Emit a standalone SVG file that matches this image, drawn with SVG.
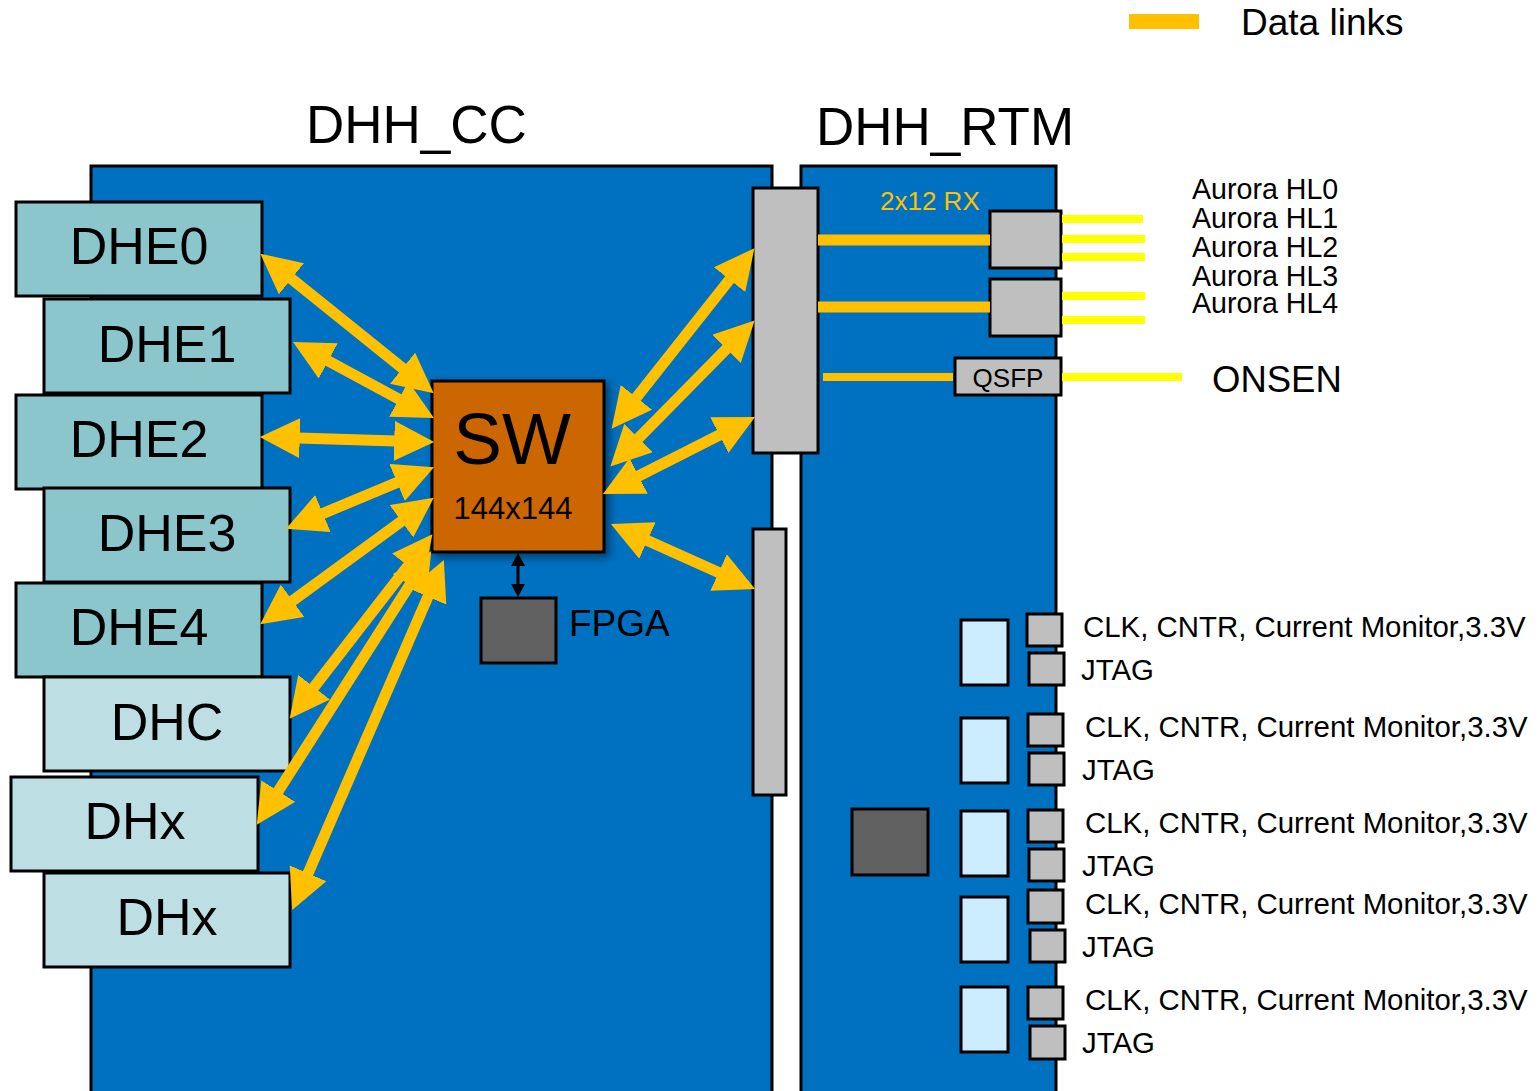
<svg xmlns="http://www.w3.org/2000/svg" width="1539" height="1091" viewBox="0 0 1539 1091">
<defs>
<style>
text{font-family:"Liberation Sans",Arial,sans-serif;fill:#000}
.board{fill:#0070C0;stroke:#000;stroke-width:3}
.dhe{fill:#8BC6CD;stroke:#000;stroke-width:3}
.dhc{fill:#BDDFE3;stroke:#000;stroke-width:3}
.gray{fill:#BFBFBF;stroke:#000;stroke-width:3}
.lb{fill:#CCECFF;stroke:#000;stroke-width:3}
.dark{fill:#606060;stroke:#000;stroke-width:3}
.link{stroke:#FFC000;stroke-width:11;fill:none;marker-start:url(#ah);marker-end:url(#ah)}
.or{stroke:#FFC000;fill:none}
.ye{stroke:#FFFF00;stroke-width:8;fill:none}
.lbl{font-size:52px;text-anchor:middle}
.mon{font-size:29.4px}
.aur{font-size:28.6px}
</style>
<marker id="ah" markerUnits="userSpaceOnUse" markerWidth="40" markerHeight="40" viewBox="0 0 36 36" refX="16" refY="18" orient="auto-start-reverse">
<path d="M0,0 L36,18 L0,36 Z" fill="#FFC000"/>
</marker>
<filter id="sh" x="-20%" y="-20%" width="150%" height="150%">
<feDropShadow dx="4" dy="4" stdDeviation="4" flood-color="#000" flood-opacity="0.45"/>
</filter>
</defs>
<rect width="1539" height="1091" fill="#fff"/>

<g id="legend">
<rect x="1129" y="14" width="70" height="15" fill="#FFC000"/>
<text x="1241" y="35" font-size="37">Data links</text>
</g>

<g id="dhh_cc">
<rect class="board" x="91" y="166" width="681" height="940"/>
<text x="306" y="143" font-size="53">DHH_CC</text>
</g>
<g id="dhh_rtm">
<rect class="board" x="801" y="166" width="255" height="940"/>
<text x="816" y="145" font-size="53">DHH_RTM</text>
</g>

<g id="conn_top"><rect class="gray" x="753" y="188" width="65" height="265"/></g>
<g id="conn_bot"><rect class="gray" x="753" y="529" width="33" height="266"/></g>

<g id="dhe0"><rect class="dhe" x="16" y="202" width="246" height="94"/><text class="lbl" x="139" y="264">DHE0</text></g>
<g id="dhe1"><rect class="dhe" x="44" y="299" width="246" height="94"/><text class="lbl" x="167" y="362">DHE1</text></g>
<g id="dhe2"><rect class="dhe" x="16" y="395" width="246" height="94"/><text class="lbl" x="139" y="457">DHE2</text></g>
<g id="dhe3"><rect class="dhe" x="44" y="488" width="246" height="94"/><text class="lbl" x="167" y="551">DHE3</text></g>
<g id="dhe4"><rect class="dhe" x="16" y="583" width="246" height="94"/><text class="lbl" x="139" y="645">DHE4</text></g>
<g id="dhc"><rect class="dhc" x="44" y="677" width="246" height="94"/><text class="lbl" x="167" y="740">DHC</text></g>
<g id="dhx1"><rect class="dhc" x="11" y="777" width="247" height="94"/><text class="lbl" x="135" y="839">DHx</text></g>
<g id="dhx2"><rect class="dhc" x="44" y="873" width="246" height="94"/><text class="lbl" x="167" y="935">DHx</text></g>

<g id="sw">
<rect x="432" y="381" width="172" height="171" fill="#CC6600" stroke="#000" stroke-width="3" filter="url(#sh)"/>
<text x="512" y="464" font-size="73" text-anchor="middle">SW</text>
<text x="513" y="519" font-size="31" text-anchor="middle">144x144</text>
</g>
<g id="fpga">
<rect class="dark" x="481" y="598" width="75" height="65"/>
<text x="569" y="636" font-size="37">FPGA</text>
</g>

<g id="hl_conn1"><rect class="gray" x="990" y="211" width="71" height="57"/></g>
<g id="hl_conn2"><rect class="gray" x="990" y="279" width="71" height="57"/></g>
<g id="qsfp"><rect class="gray" x="955" y="358" width="106" height="37"/><text x="1008" y="387" font-size="26" text-anchor="middle">QSFP</text></g>
<text x="880" y="210" font-size="26" style="fill:#FFC000">2x12 RX</text>

<g id="aurora">
<text class="aur" x="1192" y="199">Aurora HL0</text>
<text class="aur" x="1192" y="228">Aurora HL1</text>
<text class="aur" x="1192" y="257">Aurora HL2</text>
<text class="aur" x="1192" y="286">Aurora HL3</text>
<text class="aur" x="1192" y="313">Aurora HL4</text>
<text x="1212" y="392" font-size="36.5">ONSEN</text>
</g>

<g id="fpga_rtm"><rect class="dark" x="852" y="809" width="76" height="66"/></g>

<g id="mon1"><rect class="lb" x="961" y="620" width="47" height="65"/><rect class="gray" x="1027" y="614" width="35" height="32"/><rect class="gray" x="1029" y="653" width="35" height="32"/>
<text class="mon" x="1083" y="637">CLK, CNTR, Current Monitor,3.3V</text><text class="mon" x="1081" y="680">JTAG</text></g>
<g id="mon2"><rect class="lb" x="961" y="718" width="47" height="65"/><rect class="gray" x="1028" y="714" width="35" height="32"/><rect class="gray" x="1029" y="753" width="35" height="32"/>
<text class="mon" x="1085" y="737">CLK, CNTR, Current Monitor,3.3V</text><text class="mon" x="1082" y="780">JTAG</text></g>
<g id="mon3"><rect class="lb" x="961" y="811" width="47" height="65"/><rect class="gray" x="1028" y="810" width="35" height="32"/><rect class="gray" x="1029" y="849" width="35" height="32"/>
<text class="mon" x="1085" y="833">CLK, CNTR, Current Monitor,3.3V</text><text class="mon" x="1082" y="876">JTAG</text></g>
<g id="mon4"><rect class="lb" x="961" y="897" width="47" height="65"/><rect class="gray" x="1028" y="890" width="35" height="33"/><rect class="gray" x="1030" y="930" width="35" height="32"/>
<text class="mon" x="1085" y="914">CLK, CNTR, Current Monitor,3.3V</text><text class="mon" x="1082" y="957">JTAG</text></g>
<g id="mon5"><rect class="lb" x="961" y="987" width="47" height="65"/><rect class="gray" x="1028" y="987" width="35" height="32"/><rect class="gray" x="1030" y="1026" width="35" height="33"/>
<text class="mon" x="1085" y="1010">CLK, CNTR, Current Monitor,3.3V</text><text class="mon" x="1082" y="1053">JTAG</text></g>

<g id="connectors">
<line class="link" x1="277.6" y1="267.6" x2="416.4" y2="379.4"/>
<line class="link" x1="312.6" y1="352.5" x2="414.4" y2="407.5"/>
<line class="link" x1="282" y1="437.6" x2="412" y2="441.4"/>
<line class="link" x1="306.5" y1="520.3" x2="413.5" y2="475.7"/>
<line class="link" x1="278.2" y1="611.2" x2="415.8" y2="510.8"/>
<line class="link" x1="303.2" y1="701.2" x2="418.8" y2="551.8"/>
<line class="link" x1="268.7" y1="806.1" x2="419.3" y2="569.9"/>
<line class="link" x1="301" y1="889.6" x2="435" y2="580.4"/>
<line class="link" x1="625.4" y1="411.3" x2="740.6" y2="265.7"/>
<line class="link" x1="626" y1="450.8" x2="739" y2="336.2"/>
<line class="link" x1="622.8" y1="484" x2="735.2" y2="427"/>
<line class="link" x1="631.2" y1="533.2" x2="734.8" y2="579.8"/>
<line class="or" stroke-width="11" x1="818" y1="240" x2="990" y2="240"/>
<line class="or" stroke-width="11" x1="818" y1="307" x2="990" y2="307"/>
<line class="or" stroke-width="8" x1="823" y1="377" x2="953" y2="377"/>
<line class="ye" x1="1062" y1="219" x2="1143" y2="219"/>
<line class="ye" x1="1062" y1="239" x2="1145" y2="239"/>
<line class="ye" x1="1062" y1="257" x2="1145" y2="257"/>
<line class="ye" x1="1062" y1="296" x2="1145" y2="296"/>
<line class="ye" x1="1062" y1="320" x2="1145" y2="320"/>
<line class="ye" x1="1062" y1="377" x2="1182" y2="377"/>
<line x1="518" y1="562" x2="518" y2="588" stroke="#000" stroke-width="3"/>
<path d="M518,553 L525,566 L511,566 Z M518,597 L525,584 L511,584 Z" fill="#000"/>
</g>
</svg>
